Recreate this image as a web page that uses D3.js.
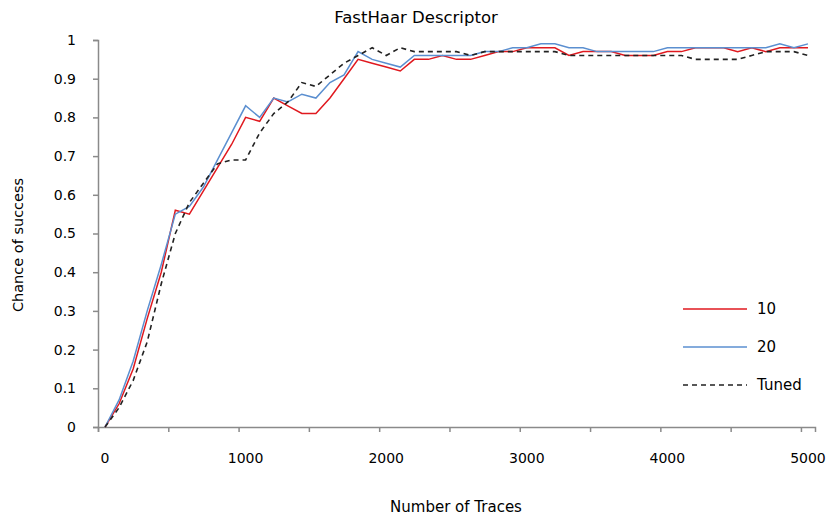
<!DOCTYPE html>
<html>
<head>
<meta charset="utf-8">
<script src="https://cdn.jsdelivr.net/npm/d3@7"></script>
<style>
  body { margin: 0; background: #fff; }
  svg { display: block; font-family: "DejaVu Sans", sans-serif; }
</style>
</head>
<body>
<svg id="chart" width="833" height="519"></svg>
<script>
// Traces, one point every 100
const traces = d3.range(0, 5001, 100);

const series10 = [0, 0.06, 0.15, 0.28, 0.40, 0.56, 0.55, 0.61, 0.67, 0.73,
  0.80, 0.79, 0.85, 0.83, 0.81, 0.81, 0.85, 0.90, 0.95, 0.94,
  0.93, 0.92, 0.95, 0.95, 0.96, 0.95, 0.95, 0.96, 0.97, 0.97,
  0.98, 0.98, 0.98, 0.96, 0.97, 0.97, 0.97, 0.96, 0.96, 0.96,
  0.97, 0.97, 0.98, 0.98, 0.98, 0.97, 0.98, 0.97, 0.98, 0.98, 0.98];

const series20 = [0, 0.07, 0.17, 0.30, 0.42, 0.55, 0.57, 0.62, 0.69, 0.76,
  0.83, 0.80, 0.85, 0.84, 0.86, 0.85, 0.89, 0.91, 0.97, 0.95,
  0.94, 0.93, 0.96, 0.96, 0.96, 0.96, 0.96, 0.97, 0.97, 0.98,
  0.98, 0.99, 0.99, 0.98, 0.98, 0.97, 0.97, 0.97, 0.97, 0.97,
  0.98, 0.98, 0.98, 0.98, 0.98, 0.98, 0.98, 0.98, 0.99, 0.98, 0.99];

const seriesTuned = [0, 0.05, 0.12, 0.22, 0.37, 0.50, 0.58, 0.63, 0.68, 0.69,
  0.69, 0.76, 0.81, 0.84, 0.89, 0.88, 0.91, 0.94, 0.96, 0.98,
  0.96, 0.98, 0.97, 0.97, 0.97, 0.97, 0.96, 0.97, 0.97, 0.97,
  0.97, 0.97, 0.97, 0.96, 0.96, 0.96, 0.96, 0.96, 0.96, 0.96,
  0.96, 0.96, 0.95, 0.95, 0.95, 0.95, 0.96, 0.97, 0.97, 0.97, 0.96];

const xLabels = [0, 1000, 2000, 3000, 4000, 5000];
const yTicks = d3.range(0, 1.01, 0.1);

const seriesList = [
  {name: '10', values: series10, color: '#e0191f', dash: null, width: 1.5},
  {name: '20', values: series20, color: '#5b8fd0', dash: null, width: 1.5},
  {name: 'Tuned', values: seriesTuned, color: '#222', dash: '5,4', width: 1.6}
];

const svg = d3.select('#chart');
const axisColor = '#8a8a8a';

// category-style x axis: points sit mid-category, ticks between
const x = d3.scaleLinear().domain([-50, 5050]).range([98, 815]);
const y = d3.scaleLinear().domain([0, 1]).range([427, 40]);

// title
svg.append('text')
  .attr('x', 416).attr('y', 23)
  .attr('text-anchor', 'middle')
  .attr('font-size', 16.5)
  .attr('fill', '#000')
  .text('FastHaar Descriptor');

// y axis
const yAxis = svg.append('g')
  .attr('transform', `translate(${x(-50)},0)`)
  .call(d3.axisLeft(y).tickValues(yTicks).tickSize(5)
    .tickFormat(d => d === 0 ? '0' : (d === 1 ? '1' : d3.format('.1f')(d))));
yAxis.select('.domain').attr('stroke', axisColor).attr('stroke-width', 1.5);
yAxis.selectAll('.tick line').attr('stroke', axisColor).attr('stroke-width', 1.5);
yAxis.selectAll('.tick text')
  .attr('x', -22).attr('font-size', 14).attr('fill', '#000')
  .attr('font-family', '"DejaVu Sans", sans-serif');

// x axis: tick marks every 500 between categories
const xAxis = svg.append('g')
  .attr('transform', `translate(0,${y(0)})`)
  .call(d3.axisBottom(x).tickValues(d3.range(-50, 5051, 500)).tickSize(5).tickFormat(''));
xAxis.select('.domain').attr('stroke', axisColor).attr('stroke-width', 1.5);
xAxis.selectAll('.tick line').attr('stroke', axisColor).attr('stroke-width', 1.5);

svg.append('g')
  .selectAll('text')
  .data(xLabels)
  .join('text')
  .attr('x', d => x(d))
  .attr('y', y(0) + 36)
  .attr('text-anchor', 'middle')
  .attr('font-size', 14)
  .attr('fill', '#000')
  .text(d => d);

// axis titles
svg.append('text')
  .attr('x', 456).attr('y', 512)
  .attr('text-anchor', 'middle')
  .attr('font-size', 15)
  .text('Number of Traces');

svg.append('text')
  .attr('transform', 'translate(23,245) rotate(-90)')
  .attr('text-anchor', 'middle')
  .attr('font-size', 14.5)
  .text('Chance of success');

// lines
const line = d3.line()
  .x((d, i) => x(traces[i]))
  .y(d => y(d));

svg.append('g')
  .selectAll('path')
  .data(seriesList)
  .join('path')
  .attr('d', d => line(d.values))
  .attr('fill', 'none')
  .attr('stroke', d => d.color)
  .attr('stroke-width', d => d.width)
  .attr('stroke-dasharray', d => d.dash);

// legend
const legend = svg.append('g')
  .selectAll('g')
  .data(seriesList)
  .join('g')
  .attr('transform', (d, i) => `translate(683,${309 + i * 38})`);

legend.append('line')
  .attr('x1', 0).attr('x2', 64)
  .attr('stroke', d => d.color)
  .attr('stroke-width', d => d.width)
  .attr('stroke-dasharray', d => d.dash);

legend.append('text')
  .attr('x', 74).attr('y', 5)
  .attr('font-size', 15)
  .text(d => d.name);
</script>
</body>
</html>
